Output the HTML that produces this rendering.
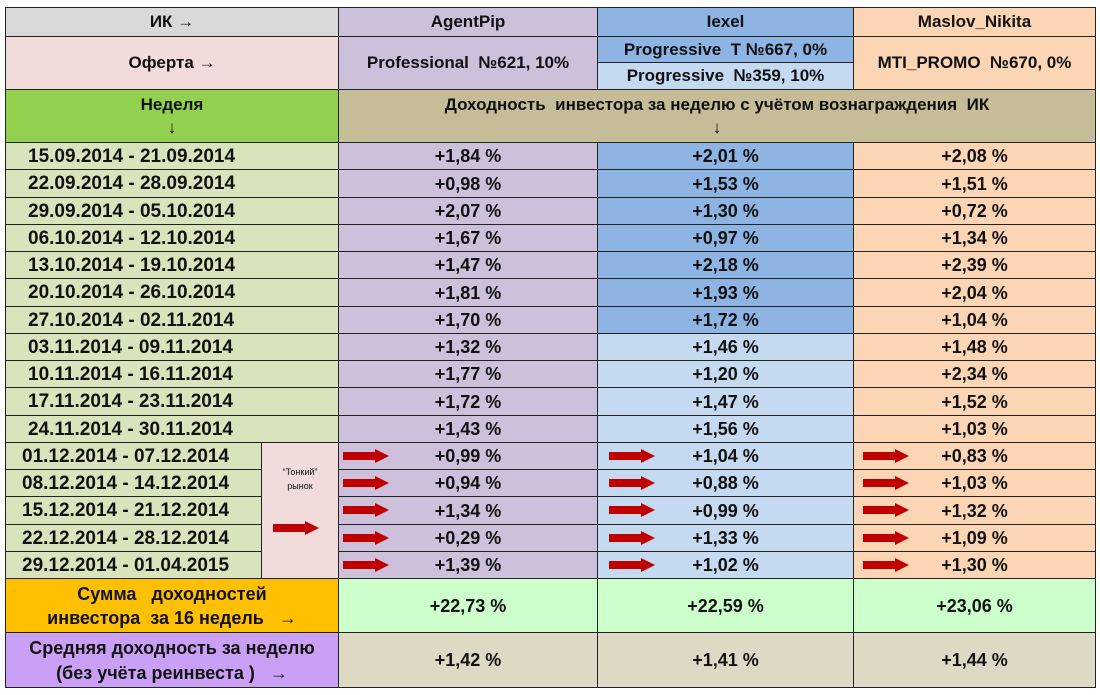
<!DOCTYPE html>
<html><head><meta charset="utf-8">
<style>
body{margin:0;width:1100px;height:695px;background:#fff;position:relative;overflow:hidden;font-family:"Liberation Sans","Noto Sans CJK SC",sans-serif;}
.c{position:absolute;box-sizing:border-box;border:1px solid #222;display:flex;align-items:center;justify-content:center;text-align:center;font-weight:bold;font-size:17px;color:#111;line-height:1.35;padding-top:1px;}
.arr{position:absolute;width:46px;height:14px;}
</style></head><body>
<script>
const weeks=["15.09.2014 - 21.09.2014","22.09.2014 - 28.09.2014","29.09.2014 - 05.10.2014","06.10.2014 - 12.10.2014","13.10.2014 - 19.10.2014","20.10.2014 - 26.10.2014","27.10.2014 - 02.11.2014","03.11.2014 - 09.11.2014","10.11.2014 - 16.11.2014","17.11.2014 - 23.11.2014","24.11.2014 - 30.11.2014","01.12.2014  - 07.12.2014","08.12.2014  - 14.12.2014","15.12.2014  - 21.12.2014","22.12.2014  - 28.12.2014","29.12.2014  - 01.04.2015"];
const agentPip=["+1,84 %","+0,98 %","+2,07 %","+1,67 %","+1,47 %","+1,81 %","+1,70 %","+1,32 %","+1,77 %","+1,72 %","+1,43 %","+0,99 %","+0,94 %","+1,34 %","+0,29 %","+1,39 %"];
const iexel=["+2,01 %","+1,53 %","+1,30 %","+0,97 %","+2,18 %","+1,93 %","+1,72 %","+1,46 %","+1,20 %","+1,47 %","+1,56 %","+1,04 %","+0,88 %","+0,99 %","+1,33 %","+1,02 %"];
const maslov=["+2,08 %","+1,51 %","+0,72 %","+1,34 %","+2,39 %","+2,04 %","+1,04 %","+1,48 %","+2,34 %","+1,52 %","+1,03 %","+0,83 %","+1,03 %","+1,32 %","+1,09 %","+1,30 %"];
const sums=["+22,73 %","+22,59 %","+23,06 %"];
const avgs=["+1,42 %","+1,41 %","+1,44 %"];

const X=[5,338,597,853,1095];
function cell(x,y,w,h,bg,html,name,extra){
  const d=document.createElement('div');
  d.className='c';
  d.style.cssText+=`left:${x}px;top:${y}px;width:${w+1}px;height:${h+1}px;background:${bg};`+(extra||'');
  d.innerHTML=html;
  
  
  document.body.appendChild(d);
  return d;
}
function arrow(x,y,name){
  const s=document.createElementNS('http://www.w3.org/2000/svg','svg');
  s.setAttribute('class','arr');
  s.setAttribute('viewBox','0 0 46 14');
  s.style.left=x+'px';s.style.top=y+'px';
  s.innerHTML='<polygon points="0,3 32,3 32,0 46,7 32,14 32,11 0,11" fill="#c00000"/>';
  
  
  document.body.appendChild(s);
}
cell(5,7,333,29,'#d9d9d9','ИК →','ik-header-label');
cell(338,7,259,29,'#ccc0da','AgentPip','agentpip-header');
cell(597,7,256,29,'#8db4e2','Iexel','iexel-header');
cell(853,7,242,29,'#fcd5b4','Maslov_Nikita','maslov-header');
cell(5,36,333,53,'#f2dcdb','Оферта →','offer-label');
cell(338,36,259,53,'#ccc0da','Professional &nbsp;№621, 10%','agentpip-offer');
cell(597,36,256,26,'#8db4e2','Progressive &nbsp;T №667, 0%','iexel-offer-t');
cell(597,62,256,27,'#c5d9f1','Progressive &nbsp;№359, 10%','iexel-offer-359');
cell(853,36,242,53,'#fcd5b4','MTI_PROMO &nbsp;№670, 0%','maslov-offer');
cell(5,89,333,53,'#92d050','Неделя<br>↓','week-column-header','align-items:flex-start;padding-top:4px;');
cell(338,89,757,53,'#c4bd97','Доходность &nbsp;инвестора за неделю с учётом вознаграждения &nbsp;ИК<br>↓','return-column-header','align-items:flex-start;padding-top:4px;');
const top0=142, rh=27.25;
for(let i=0;i<weeks.length;i++){
  const y=Math.round(top0+i*rh), h=Math.round(top0+(i+1)*rh)-y;
  const thin=i>=11;
  cell(5,y,(thin?256:333),h,'#d8e4bc',weeks[i],'week-'+(i+1),'font-size:19px;justify-content:flex-start;padding-left:'+(thin?16:22)+'px;');
  cell(338,y,259,h,'#ccc0da',agentPip[i],'agentpip-return-'+(i+1),'font-size:18px;');
  cell(597,y,256,h,i<7?'#8db4e2':'#c5d9f1',iexel[i],'iexel-return-'+(i+1),'font-size:18px;');
  cell(853,y,242,h,'#fcd5b4',maslov[i],'maslov-return-'+(i+1),'font-size:18px;');
  if(thin){
    const ay=y+Math.round(h/2)-7;
    arrow(343,ay,'agentpip-arrow-'+(i+1));
    arrow(609,ay,'iexel-arrow-'+(i+1));
    arrow(863,ay,'maslov-arrow-'+(i+1));
  }
}
const ty=Math.round(top0+11*rh);
cell(261,ty,77,578-ty,'#f2dcdb','<span style="font-size:9px;font-weight:normal;line-height:1.6">“Тонкий”<br>рынок</span>','thin-market-note','align-items:flex-start;padding-top:22px;');
arrow(273,521,'thin-market-arrow');
cell(5,578,333,54,'#ffc000','Сумма &nbsp;&nbsp;доходностей<br>инвестора &nbsp;за 16 недель &nbsp;&nbsp;→','sum-label','font-size:18px;');
for(let j=0;j<3;j++) cell(X[j+1],578,X[j+2]-X[j+1],54,'#ccffcc',sums[j],'sum-value-'+(j+1),'font-size:18px;');
cell(5,632,333,55,'#c9a0f5','Средняя доходность за неделю<br>(без учёта реинвеста ) &nbsp;&nbsp;→','avg-label','font-size:18px;');
for(let j=0;j<3;j++) cell(X[j+1],632,X[j+2]-X[j+1],55,'#ddd9c4',avgs[j],'avg-value-'+(j+1),'font-size:18px;');
</script>
</body></html>
